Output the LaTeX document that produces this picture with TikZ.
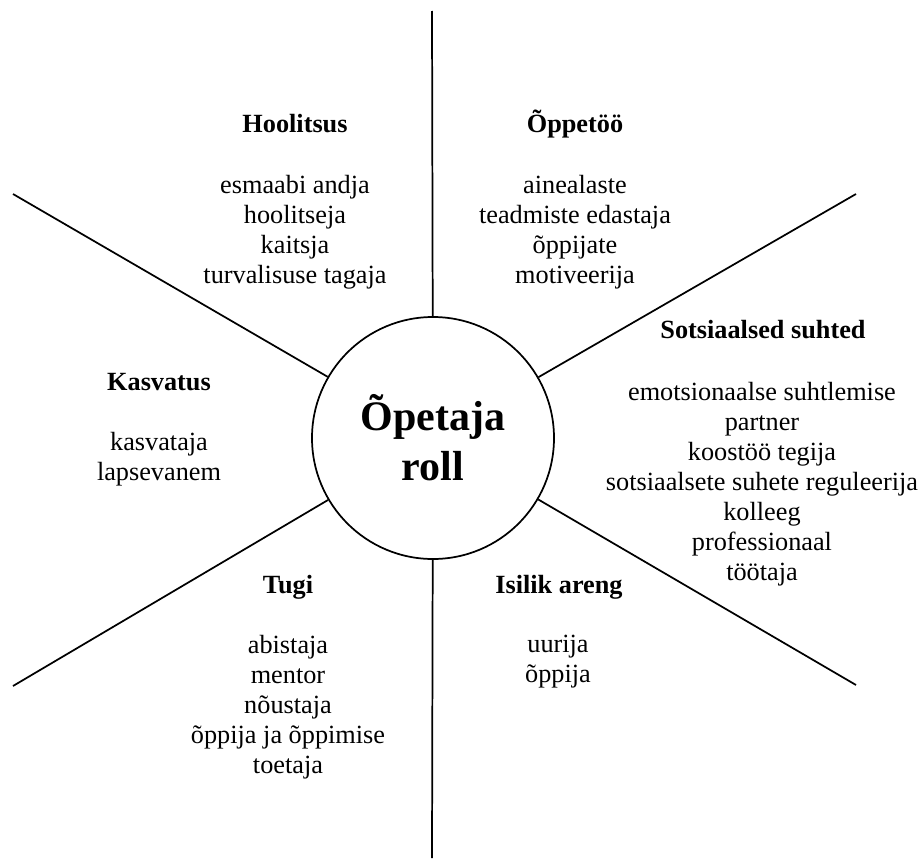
\documentclass[tikz,border=0pt]{standalone}
\usepackage{fontspec}
\setmainfont{Liberation Serif}
\usetikzlibrary{positioning}

\begin{document}
\begin{tikzpicture}
[x=0.75pt,y=-0.75pt,
 title/.style={font=\fontsize{19.7}{22.5}\selectfont\bfseries, anchor=base, inner sep=0pt},
 roles/.style={font=\fontsize{19.7}{22.5}\selectfont, align=center, anchor=base, inner sep=0pt},
 spoke/.style={line width=1.3pt}]
\useasboundingbox (0,0) rectangle (922,860);
\node[draw,circle,line width=1.3pt,minimum size=181.5pt,inner sep=0pt,align=center,
      font=\fontsize{31.5}{37.5}\selectfont\bfseries](role) at (433,438){Õpetaja\\roll};
\coordinate (n) at (432,11);
\coordinate (s) at (432,858);
\coordinate (nw) at (13,194);
\coordinate (ne) at (856,194);
\coordinate (sw) at (13,686);
\coordinate (se) at (856,685);
\foreach \c in {n,s,nw,ne,sw,se}
  \draw[spoke] (\c) -- (role);
% lists are placed by the baseline of their last line
\node[title](care) at (295,132){Hoolitsus};
\node[roles](carelist) at (295,283){esmaabi andja\\hoolitseja\\kaitsja\\turvalisuse tagaja};
\node[title](teach) at (575,132){Õppetöö};
\node[roles](teachlist) at (575,283){ainealaste\\teadmiste edastaja\\õppijate\\motiveerija};
\node[title](social) at (763,338){Sotsiaalsed suhted};
\node[roles](sociallist) at (762,580){emotsionaalse suhtlemise\\partner\\koostöö tegija\\sotsiaalsete suhete reguleerija\\kolleeg\\professionaal\\töötaja};
\node[title](raise) at (159,390){Kasvatus};
\node[roles](raiselist) at (159,480){kasvataja\\lapsevanem};
\node[title](help) at (288,593){Tugi};
\node[roles](helplist) at (288,773){abistaja\\mentor\\nõustaja\\õppija ja õppimise\\toetaja};
\node[title](grow) at (559,593){Isilik areng};
\node[roles](growlist) at (558,682){uurija\\õppija};
\end{tikzpicture}
\end{document}
